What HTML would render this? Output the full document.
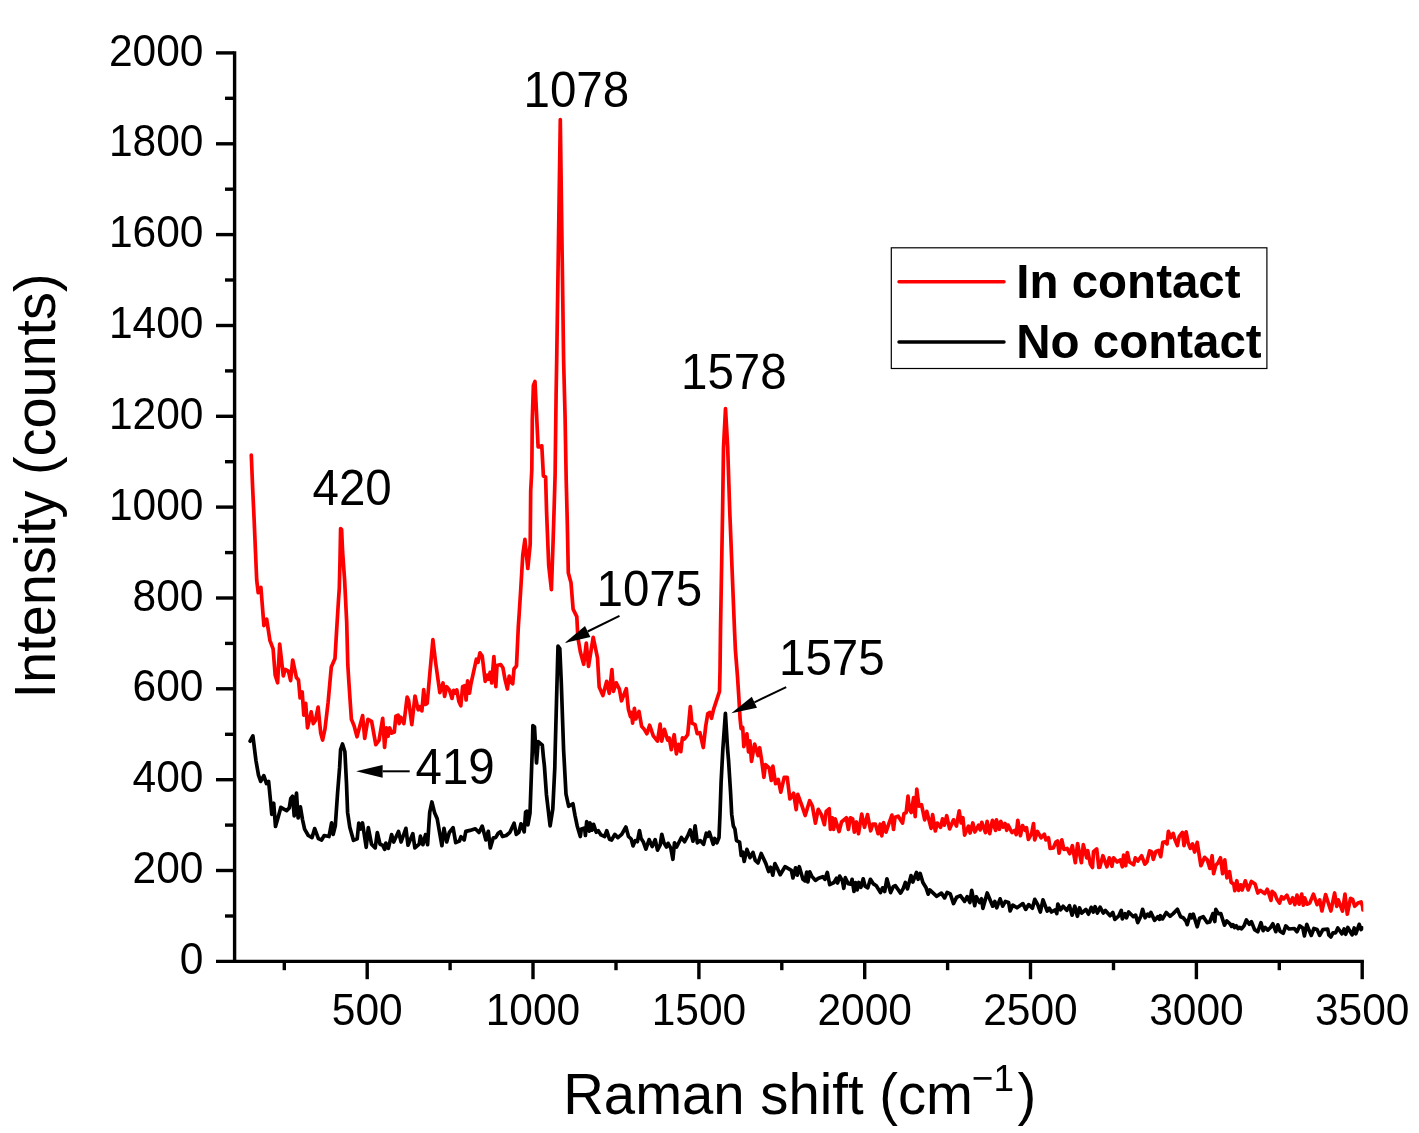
<!DOCTYPE html>
<html><head><meta charset="utf-8"><title>Raman spectra</title>
<style>
html,body{margin:0;padding:0;background:#fff;}
body{width:1419px;height:1133px;overflow:hidden;}
svg{display:block;}
text{font-family:"Liberation Sans",sans-serif;fill:#000;}
.tl{font-size:42.5px;}
.an{font-size:47.5px;}
.ax{font-size:56.3px;}
.ay{font-size:55.8px;}
.lg{font-size:47.5px;font-weight:bold;}
</style></head><body>
<svg width="1419" height="1133" viewBox="0 0 1419 1133">
<rect width="1419" height="1133" fill="#fff"/>

<defs><clipPath id="pc"><rect x="236" y="40" width="1127.3" height="922"/></clipPath></defs>
<g clip-path="url(#pc)">
<polyline points="251.3,455.0 252.6,487.0 254.1,519.1 255.5,552.0 256.7,580.0 258.2,592.7 260.9,587.4 263.9,625.6 266.7,619.2 269.9,640.4 273.1,648.9 275.2,675.3 277.6,682.8 279.7,644.1 283.3,675.9 285.3,669.5 288.4,671.1 290.6,680.6 292.7,660.0 296.4,677.5 298.5,680.0 300.1,698.0 302.2,692.0 303.8,715.1 305.7,703.4 307.5,727.8 311.2,711.9 313.3,723.6 315.4,720.4 318.1,707.1 320.7,733.1 322.6,740.0 325.0,728.9 328.1,702.4 331.3,667.0 335.0,658.4 336.6,630.8 338.5,600.0 339.3,588.5 340.0,560.0 340.6,528.5 341.6,529.5 342.6,552.0 344.6,580.0 346.7,622.4 347.8,664.7 348.8,681.2 351.4,719.3 354.1,725.7 357.0,736.8 362.6,715.6 364.7,738.4 367.9,719.3 371.6,721.4 375.8,744.7 379.0,740.5 382.7,718.3 384.6,747.4 386.4,727.8 388.0,736.3 389.6,727.8 391.7,733.1 394.3,732.0 395.9,716.1 398.1,715.1 399.1,723.6 400.7,717.2 403.9,723.6 407.1,697.1 408.6,700.3 411.8,724.6 415.0,696.0 418.2,709.8 419.8,706.6 421.9,710.8 423.7,689.7 425.1,704.5 427.2,703.4 429.8,673.8 432.9,639.6 435.6,662.4 439.8,692.6 443.0,683.0 444.6,696.3 446.7,686.7 449.4,689.9 452.0,698.4 453.6,690.4 455.2,693.1 456.8,689.9 458.9,701.6 460.8,705.8 462.6,686.7 464.7,685.7 466.1,700.0 467.6,680.9 469.5,693.1 470.8,684.6 476.4,659.2 478.0,662.4 479.9,652.8 482.2,656.0 485.2,681.4 487.5,675.1 488.6,679.3 490.1,672.4 491.7,683.0 493.9,656.5 495.8,686.7 497.0,665.6 500.7,664.5 502.9,667.7 505.0,679.3 507.4,689.0 509.2,676.1 510.3,682.5 511.3,678.3 512.7,683.9 514.0,669.0 516.5,665.8 518.3,627.0 519.3,612.0 520.7,590.0 522.8,554.7 524.9,539.4 527.8,568.5 530.2,544.2 530.7,491.2 531.8,470.0 532.3,419.3 533.4,385.4 535.0,381.5 536.5,413.0 538.1,446.9 541.8,445.8 543.4,476.0 545.6,477.0 546.6,512.4 548.7,565.3 551.4,589.6 553.0,544.2 554.0,512.4 555.1,475.0 556.1,395.0 556.7,360.0 560.3,119.5 563.6,360.0 565.1,418.3 566.2,480.0 567.3,523.0 568.3,572.8 571.0,582.7 573.1,609.2 576.8,616.6 577.9,637.8 580.5,652.6 583.7,664.3 586.3,643.1 588.5,666.4 593.2,637.3 597.5,657.9 599.2,687.1 602.9,695.6 606.7,681.3 609.3,693.4 611.9,669.6 613.5,691.3 616.2,682.8 619.4,689.2 621.5,700.8 626.3,688.7 628.4,709.3 630.5,716.7 631.5,712.5 632.6,723.1 634.4,708.3 635.8,718.9 639.0,711.4 641.6,726.3 644.3,729.4 646.9,733.7 649.6,725.2 653.3,735.8 657.5,741.1 660.1,724.2 661.7,741.1 664.4,729.4 667.6,740.0 669.2,737.9 671.3,749.6 674.2,734.7 676.4,753.8 678.7,744.3 680.8,751.7 682.4,737.9 684.5,739.0 687.7,734.7 690.3,706.7 691.9,723.1 695.1,724.7 697.2,733.7 699.9,732.6 703.3,747.5 705.7,726.3 707.8,713.6 709.9,712.5 711.5,718.3 713.6,709.3 719.5,691.3 720.0,671.2 720.5,630.0 722.6,510.0 723.5,447.7 725.5,408.5 727.7,447.7 729.7,510.0 734.5,630.0 735.4,650.0 737.5,676.5 739.0,700.0 740.1,719.1 741.1,728.6 742.7,727.5 743.8,746.6 746.9,733.9 748.5,751.9 749.9,740.8 751.5,761.4 754.6,744.0 758.1,755.6 759.7,747.7 761.8,761.4 763.9,777.3 765.5,764.6 769.2,767.8 771.3,780.5 772.9,766.2 775.6,783.7 778.2,779.4 780.8,792.2 784.2,777.3 787.2,777.3 789.9,799.0 793.6,793.2 796.2,809.6 797.8,794.3 802.0,805.9 805.2,815.5 809.6,800.7 812.4,806.1 815.4,823.1 818.2,809.3 821.4,814.6 824.4,824.7 826.2,811.4 829.2,808.8 830.4,829.4 832.3,817.8 833.6,829.4 835.2,818.9 839.1,831.6 841.5,822.0 846.3,817.8 848.4,829.4 850.3,817.8 852.7,818.9 854.3,832.1 856.4,822.0 858.5,833.7 861.7,814.1 864.5,827.3 867.5,814.6 870.7,830.8 872.8,824.2 875.4,824.2 878.1,833.7 880.2,824.2 881.8,835.8 883.6,822.6 886.0,832.1 888.7,824.2 891.9,815.1 893.5,829.4 895.0,817.3 898.2,816.2 902.5,823.1 904.0,813.6 906.2,812.5 908.0,796.1 909.3,809.3 911.3,812.5 913.6,797.7 915.2,816.7 916.8,789.2 918.9,806.1 921.5,804.6 924.7,819.9 926.8,811.4 931.1,828.4 932.6,814.6 935.3,831.0 937.4,823.1 940.6,827.3 942.5,818.9 944.3,825.2 946.7,815.7 949.6,828.9 953.5,819.8 956.4,826.1 959.2,810.8 961.1,823.0 962.9,817.7 964.6,835.1 968.5,826.1 970.1,833.0 972.8,823.0 974.9,832.0 978.6,825.1 980.2,829.9 981.8,822.4 985.5,832.5 987.1,821.4 989.7,833.6 992.4,820.3 995.6,830.4 996.4,819.8 999.3,829.3 1000.8,821.4 1003.0,827.2 1005.1,823.5 1006.7,830.4 1008.1,825.1 1011.9,832.5 1014.6,830.4 1016.2,834.6 1017.8,820.3 1020.4,835.7 1022.6,825.6 1025.2,830.4 1026.5,827.7 1028.4,839.4 1031.6,833.6 1033.5,823.5 1034.7,839.9 1037.4,831.4 1041.1,837.8 1044.3,834.1 1045.9,839.9 1048.5,837.8 1050.1,848.4 1053.3,847.9 1055.9,842.0 1057.5,841.0 1059.1,853.2 1061.8,839.9 1063.9,849.4 1067.1,848.4 1069.7,853.7 1072.4,845.7 1075.3,862.7 1077.6,843.6 1081.4,862.7 1083.3,844.7 1086.7,857.9 1087.7,850.5 1090.4,864.3 1092.5,867.5 1093.5,851.6 1096.7,848.9 1098.8,867.5 1099.8,867.3 1102.9,855.7 1106.9,866.8 1109.3,857.8 1111.9,866.3 1113.5,857.8 1117.2,862.0 1120.4,859.9 1122.3,866.8 1123.6,855.1 1125.7,865.7 1127.3,852.5 1129.4,862.0 1133.7,864.7 1135.3,857.8 1137.9,861.0 1141.6,855.7 1144.8,864.2 1146.9,862.0 1149.6,850.9 1151.7,852.0 1153.3,859.4 1155.9,851.4 1158.6,850.4 1160.7,856.7 1162.8,842.4 1165.4,841.9 1167.0,844.0 1168.4,831.3 1170.7,837.7 1173.2,833.4 1175.0,839.8 1177.4,845.6 1179.2,836.6 1182.4,832.4 1184.0,845.6 1186.1,831.8 1188.2,843.0 1190.3,848.3 1192.5,844.0 1194.6,852.0 1197.2,842.4 1200.9,865.7 1204.6,857.3 1207.3,859.9 1209.9,868.4 1212.1,855.7 1213.6,873.7 1215.8,865.2 1217.9,863.1 1220.5,857.8 1222.6,873.7 1224.8,859.9 1226.9,877.9 1229.5,871.6 1231.1,882.2 1233.8,884.3 1234.8,890.6 1236.8,880.7 1238.7,890.5 1240.7,884.8 1242.2,890.0 1245.3,880.8 1248.2,889.9 1251.4,881.4 1255.1,884.0 1257.8,893.0 1260.4,890.4 1264.7,893.6 1267.3,889.3 1268.9,893.6 1271.0,900.4 1272.1,891.4 1274.7,893.6 1276.8,898.9 1279.5,903.1 1281.6,896.7 1283.7,898.9 1286.9,895.1 1290.1,903.1 1292.7,897.8 1294.9,904.7 1297.0,895.1 1299.1,904.2 1301.7,894.1 1303.3,905.2 1304.7,897.8 1307.0,904.2 1309.7,903.1 1313.4,894.1 1317.1,904.7 1319.7,899.9 1321.9,911.0 1325.6,894.6 1330.9,911.0 1334.6,893.0 1336.7,906.3 1338.3,899.9 1342.5,911.0 1345.0,894.1 1347.3,914.2 1350.5,898.3 1352.6,899.4 1354.7,906.3 1357.9,903.1 1361.1,902.0 1362.6,906.3 1363.0,910.0" fill="none" stroke="#ff0000" stroke-width="3.7" stroke-linejoin="round" stroke-linecap="round"/>
<polyline points="250.1,741.2 252.9,735.9 255.9,760.3 258.5,775.1 260.7,781.4 263.8,775.6 266.5,783.6 268.6,781.4 270.7,802.6 271.8,814.3 273.7,803.2 275.5,826.5 278.1,817.5 280.8,807.4 286.6,810.6 289.3,807.9 290.8,798.4 292.6,796.3 294.2,815.9 296.5,793.1 298.1,818.0 300.4,806.9 302.5,819.6 304.6,829.1 308.3,835.5 312.0,837.6 314.7,828.6 318.4,838.6 321.6,840.0 324.2,835.5 329.0,836.5 331.6,822.8 333.2,834.4 335.3,825.9 337.5,794.2 339.6,767.7 340.6,749.7 342.5,744.0 344.9,751.8 346.5,783.6 347.6,812.4 349.8,827.2 353.5,840.4 357.2,838.9 358.8,823.0 360.7,829.0 362.5,823.0 366.2,847.3 368.3,827.7 371.5,844.2 375.2,847.9 377.3,832.5 380.0,844.2 382.6,845.2 384.7,849.4 385.8,843.1 388.4,848.4 391.6,834.6 393.7,842.0 398.5,831.4 401.1,842.0 405.9,828.3 408.0,845.2 412.8,833.6 414.9,847.9 419.2,844.2 420.4,836.2 422.9,844.7 425.5,834.6 427.6,844.7 429.7,812.4 431.9,802.0 434.5,812.4 437.2,818.7 441.9,845.7 444.0,828.3 446.7,842.0 449.3,832.5 453.1,827.7 455.7,842.6 459.4,841.0 461.0,836.7 464.2,839.9 465.8,831.4 470.0,830.4 475.3,828.8 479.0,832.5 482.2,826.1 485.9,839.9 488.3,831.3 490.3,848.0 493.3,837.8 495.6,837.6 498.2,833.3 500.4,831.8 502.5,836.5 506.2,835.5 509.9,832.3 514.1,823.3 516.3,834.4 518.9,832.3 521.0,823.8 524.2,831.8 525.6,812.2 526.8,811.1 527.9,824.9 530.0,813.2 531.8,763.0 532.3,750.0 532.9,725.6 534.5,727.0 536.5,763.0 538.2,741.5 542.3,745.2 543.4,757.0 544.4,766.0 546.4,794.2 550.1,825.9 552.8,809.0 554.8,767.7 555.2,750.0 557.0,683.0 558.0,646.2 559.8,648.6 561.3,683.0 563.6,750.0 564.0,757.1 566.0,794.2 568.7,806.3 572.9,803.7 575.0,815.3 577.2,825.9 580.3,836.5 581.4,829.1 584.6,828.1 585.4,835.5 586.7,821.7 589.3,831.2 589.9,822.8 592.0,830.2 593.6,824.3 596.2,832.3 598.3,830.7 601.0,834.9 604.7,836.5 606.8,830.7 609.5,839.2 611.6,840.0 614.8,834.4 617.9,837.6 621.7,834.4 625.9,827.0 628.5,836.5 631.2,839.0 633.0,845.9 635.3,840.6 637.4,841.7 639.5,830.6 641.1,838.5 643.2,841.7 645.9,849.1 649.1,839.6 652.2,846.5 655.2,839.6 657.5,850.2 660.2,844.9 661.8,834.3 663.9,842.8 666.5,847.0 668.1,843.3 670.8,848.1 672.9,859.3 674.5,842.8 676.6,847.0 681.4,837.5 684.6,841.7 687.7,835.9 690.2,830.0 693.0,841.2 695.1,825.8 697.3,842.8 700.4,840.6 703.6,844.3 706.3,833.2 707.9,836.4 709.4,832.2 713.2,844.3 714.7,838.5 716.9,842.8 719.0,837.5 720.0,814.2 721.1,782.4 722.8,750.0 725.4,713.3 727.5,748.0 728.6,761.2 730.6,793.0 731.7,814.2 733.3,825.8 734.9,829.0 736.5,840.6 739.6,842.2 741.2,855.5 742.6,851.9 744.2,861.4 746.9,849.3 750.0,857.7 753.0,852.4 755.3,860.4 758.0,863.0 761.2,853.5 765.9,863.6 768.6,871.5 770.7,867.3 772.8,875.2 774.9,863.6 777.6,868.9 780.2,874.7 785.0,866.7 791.4,870.4 792.9,877.9 795.6,867.8 797.2,875.2 799.3,866.7 803.0,879.4 805.1,881.0 806.7,872.0 807.9,882.0 809.7,871.9 811.7,876.1 815.4,880.4 818.5,878.3 822.8,876.7 824.9,879.3 827.3,872.4 829.7,884.6 833.9,882.5 836.5,878.3 837.6,883.0 839.7,876.1 842.4,880.9 843.8,888.3 845.3,877.7 848.2,883.6 850.8,884.1 852.1,879.3 854.0,891.5 855.6,882.5 857.2,889.9 858.8,882.5 860.9,887.3 863.2,878.8 865.1,886.2 867.8,887.8 870.4,879.3 873.1,883.6 876.3,885.7 880.5,892.6 882.6,887.8 884.7,891.5 886.9,878.8 890.6,892.6 893.2,886.7 895.3,885.7 900.6,893.1 903.3,888.3 905.4,882.5 907.5,888.9 911.0,875.6 912.8,882.0 916.5,872.4 918.1,879.3 920.2,873.5 922.9,882.5 926.1,887.8 928.2,894.2 929.8,889.9 936.7,896.3 941.4,893.1 944.6,897.9 947.1,892.4 950.3,894.0 953.5,903.6 956.7,897.2 960.4,895.6 964.6,901.4 967.2,896.7 969.9,902.5 971.7,890.3 974.7,905.7 976.3,896.7 979.4,902.5 981.5,898.8 982.9,908.3 987.2,893.0 992.7,906.2 994.8,901.4 996.7,907.8 1000.1,898.8 1002.7,906.2 1005.4,901.4 1008.6,902.5 1010.1,911.0 1012.8,905.1 1017.0,907.8 1022.9,903.6 1025.7,909.4 1028.7,904.6 1032.4,908.3 1034.8,899.3 1037.7,904.6 1040.3,912.0 1043.0,899.9 1047.2,911.0 1049.3,908.3 1051.5,912.0 1055.2,909.9 1056.8,913.6 1057.8,904.1 1060.5,909.9 1063.1,906.2 1066.8,910.4 1069.5,905.7 1072.1,915.2 1074.8,906.2 1077.4,916.3 1079.5,907.8 1081.7,913.1 1085.9,909.4 1088.5,914.2 1091.2,907.3 1093.3,912.0 1095.1,906.7 1097.4,913.0 1100.1,907.2 1103.2,913.0 1105.4,910.4 1110.1,915.7 1112.8,912.5 1114.9,919.4 1118.6,916.2 1121.3,910.4 1122.3,918.9 1125.0,913.6 1126.5,917.8 1128.7,912.0 1133.4,916.7 1135.6,915.1 1137.7,922.6 1140.8,916.2 1142.6,909.3 1145.1,917.8 1147.7,914.1 1149.3,916.2 1150.9,912.5 1154.6,920.4 1157.8,916.7 1159.4,919.4 1160.4,915.7 1162.6,918.9 1166.3,912.5 1170.0,916.2 1173.2,913.6 1177.4,909.3 1180.6,916.7 1183.2,917.8 1185.9,921.0 1187.2,924.7 1190.1,914.6 1191.7,917.8 1193.3,914.1 1197.2,926.8 1199.6,918.3 1203.3,916.7 1207.1,922.6 1209.7,922.0 1212.9,913.6 1214.8,921.5 1215.8,909.3 1218.2,913.6 1220.8,913.6 1224.5,925.2 1226.7,921.0 1229.8,923.6 1231.6,926.4 1233.0,924.6 1234.6,927.6 1236.3,925.8 1238.0,928.6 1239.8,927.4 1241.5,928.8 1244.0,925.9 1246.4,920.0 1249.3,924.3 1251.4,921.6 1254.6,929.6 1257.8,931.7 1261.0,922.7 1263.1,930.6 1265.2,927.5 1267.8,930.1 1270.5,927.5 1272.9,923.8 1275.8,931.7 1277.9,924.8 1280.0,931.2 1283.2,933.3 1285.8,925.9 1289.0,929.0 1294.3,928.5 1297.0,931.7 1299.6,925.9 1302.8,928.0 1304.4,935.9 1306.8,924.3 1309.2,930.6 1311.3,935.4 1313.9,928.5 1317.1,929.6 1319.7,935.4 1322.9,929.6 1327.7,929.0 1328.8,934.9 1330.9,937.0 1333.0,932.8 1335.6,932.8 1337.8,928.0 1342.0,933.8 1344.1,929.0 1345.7,934.3 1347.8,927.5 1352.1,934.9 1354.2,928.0 1355.8,933.8 1359.2,924.3 1361.1,929.6 1362.6,928.0" fill="none" stroke="#000000" stroke-width="3.7" stroke-linejoin="round" stroke-linecap="round"/>
</g>
<g stroke="#000" stroke-width="3.4" stroke-linecap="butt" fill="none">
<path d="M234.6,51.2V963.1"/>
<path d="M216,961.4H1363.9"/>
<path d="M225,916.0H234"/>
<path d="M216,870.5H234"/>
<path d="M225,825.1H234"/>
<path d="M216,779.7H234"/>
<path d="M225,734.3H234"/>
<path d="M216,688.8H234"/>
<path d="M225,643.4H234"/>
<path d="M216,598.0H234"/>
<path d="M225,552.6H234"/>
<path d="M216,507.1H234"/>
<path d="M225,461.7H234"/>
<path d="M216,416.3H234"/>
<path d="M225,370.9H234"/>
<path d="M216,325.5H234"/>
<path d="M225,280.0H234"/>
<path d="M216,234.6H234"/>
<path d="M225,189.2H234"/>
<path d="M216,143.8H234"/>
<path d="M225,98.3H234"/>
<path d="M216,52.9H234"/>
<path d="M284.3,961V970.2"/>
<path d="M367.2,961V979.2"/>
<path d="M450.1,961V970.2"/>
<path d="M533.0,961V979.2"/>
<path d="M616.0,961V970.2"/>
<path d="M698.9,961V979.2"/>
<path d="M781.8,961V970.2"/>
<path d="M864.7,961V979.2"/>
<path d="M947.6,961V970.2"/>
<path d="M1030.5,961V979.2"/>
<path d="M1113.5,961V970.2"/>
<path d="M1196.4,961V979.2"/>
<path d="M1279.3,961V970.2"/>
<path d="M1362.2,961V979.2"/>
</g>
<text class="tl" transform="translate(203.5,974.0) scale(1,1.06)" text-anchor="end">0</text>
<text class="tl" transform="translate(203.5,883.1) scale(1,1.06)" text-anchor="end">200</text>
<text class="tl" transform="translate(203.5,792.3) scale(1,1.06)" text-anchor="end">400</text>
<text class="tl" transform="translate(203.5,701.4) scale(1,1.06)" text-anchor="end">600</text>
<text class="tl" transform="translate(203.5,610.6) scale(1,1.06)" text-anchor="end">800</text>
<text class="tl" transform="translate(203.5,519.8) scale(1,1.06)" text-anchor="end">1000</text>
<text class="tl" transform="translate(203.5,428.9) scale(1,1.06)" text-anchor="end">1200</text>
<text class="tl" transform="translate(203.5,338.1) scale(1,1.06)" text-anchor="end">1400</text>
<text class="tl" transform="translate(203.5,247.2) scale(1,1.06)" text-anchor="end">1600</text>
<text class="tl" transform="translate(203.5,156.3) scale(1,1.06)" text-anchor="end">1800</text>
<text class="tl" transform="translate(203.5,65.5) scale(1,1.06)" text-anchor="end">2000</text>
<text class="tl" transform="translate(367.2,1024.6) scale(1,1.06)" text-anchor="middle">500</text>
<text class="tl" transform="translate(533.0,1024.6) scale(1,1.06)" text-anchor="middle">1000</text>
<text class="tl" transform="translate(698.9,1024.6) scale(1,1.06)" text-anchor="middle">1500</text>
<text class="tl" transform="translate(864.7,1024.6) scale(1,1.06)" text-anchor="middle">2000</text>
<text class="tl" transform="translate(1030.5,1024.6) scale(1,1.06)" text-anchor="middle">2500</text>
<text class="tl" transform="translate(1196.4,1024.6) scale(1,1.06)" text-anchor="middle">3000</text>
<text class="tl" transform="translate(1362.2,1024.6) scale(1,1.06)" text-anchor="middle">3500</text>
<text class="ay" transform="translate(54.9,698.4) rotate(-90) scale(1,1.02)">Intensity (counts)</text>
<text class="ax" transform="translate(563.2,1114.3) scale(1,1.02)">Raman shift (cm<tspan font-size="37" x="408.6" y="-22.9">−1</tspan><tspan x="454.3" y="0">)</tspan></text>
<rect x="891.3" y="247.8" width="375.6" height="120.7" fill="#fff" stroke="#000" stroke-width="1.2"/>
<path d="M899,281.8H1004" stroke="#ff0000" stroke-width="3.5" stroke-linecap="round"/>
<path d="M899,341.9H1004" stroke="#000" stroke-width="3.5" stroke-linecap="round"/>
<text class="lg" transform="translate(1016.3,297.5) scale(1,1.02)">In contact</text>
<text class="lg" transform="translate(1016.3,357.8) scale(1,1.02)">No contact</text>
<text class="an" transform="translate(312.5,505.3) scale(1,1.04)">420</text>
<text class="an" transform="translate(415.5,784.3) scale(1,1.04)">419</text>
<text class="an" transform="translate(523.5,107.0) scale(1,1.04)">1078</text>
<text class="an" transform="translate(681.0,388.5) scale(1,1.04)">1578</text>
<text class="an" transform="translate(596.5,606.0) scale(1,1.04)">1075</text>
<text class="an" transform="translate(779.0,674.8) scale(1,1.04)">1575</text>
<path d="M409.7,771.3L382.6,771.3" stroke="#000" stroke-width="2.0"/><path d="M356.1,771.3L382.6,764.9L382.6,777.7Z" fill="#000"/>
<path d="M619.5,615.8L587.7,631.5" stroke="#000" stroke-width="2.0"/><path d="M564.6,642.9L585.0,626.0L590.4,636.9Z" fill="#000"/>
<path d="M786.2,687.1L754.4,702.3" stroke="#000" stroke-width="2.0"/><path d="M731.3,713.3L751.8,696.8L757.0,707.8Z" fill="#000"/>
</svg></body></html>
